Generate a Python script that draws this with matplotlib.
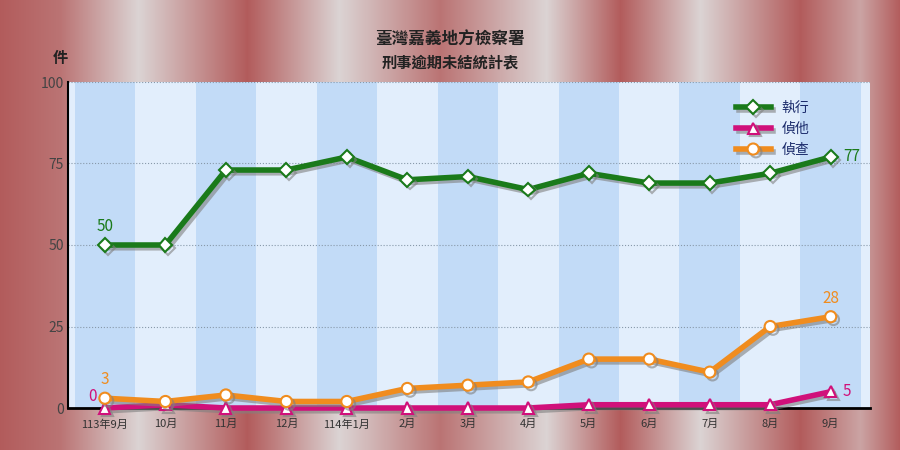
import matplotlib
matplotlib.use("Agg")
import matplotlib.pyplot as plt
import matplotlib.patheffects as pe
import numpy as np

months = ["113年9月","10月","11月","12月","114年1月","2月","3月","4月","5月","6月","7月","8月","9月"]
zhixing = [50,50,73,73,77,70,71,67,72,69,69,72,77]
zhenta = [0,1,0,0,0,0,0,0,1,1,1,1,5]
zhencha = [3,2,4,2,2,6,7,8,15,15,11,25,28]

plt.rcParams['font.family'] = ['Noto Sans CJK TC', 'DejaVu Sans']
fig = plt.figure(figsize=(9, 4.5), dpi=100)

# background stripes
bg = fig.add_axes([0, 0, 1, 1], zorder=-10)
cx = [0, 60, 138, 247, 339, 440, 546, 620, 700, 800, 860, 900]
cv = [0.0, 0.2, 1.0, 0.0, 1.0, 0.2, 1.0, 0.0, 1.0, 0.0, 0.6, 0.0]
xs = np.arange(900)
v = np.interp(xs, cx, cv)
red = np.array([0.70, 0.36, 0.36]); gray = np.array([0.86, 0.83, 0.83])
img = red[None, :] * (1 - v[:, None]) + gray[None, :] * v[:, None]
bg.imshow(img[None, :, :], aspect='auto', extent=[0, 1, 0, 1])
bg.axis('off')

ax = fig.add_axes([68/900, 1-408/450, (870-68)/900, (408-82)/450])
ax.set_xlim(-0.61, 12.65)
ax.set_ylim(0, 100)
ax.set_facecolor('#e2eefc')
for i in range(len(months)):
    if i % 2 == 0:
        ax.axvspan(i-0.5, i+0.5, color='#c2dbf7', zorder=0, lw=0)
for y in [25, 50, 75, 100]:
    ax.axhline(y, color='#8899aa', ls=':', lw=0.8, zorder=1)

x = np.arange(len(months))
sh = [pe.SimpleLineShadow(offset=(2, -2), shadow_color='gray', alpha=0.6), pe.Normal()]
ax.plot(x, zhixing, color='#1a7a1a', lw=4, marker='D', ms=7, mfc='white', mec='#1a7a1a', mew=1.5, label='執行', path_effects=sh, zorder=5, clip_on=False)
ax.plot(x, zhenta, color='#d0107a', lw=4, marker='^', ms=8, mfc='white', mec='#d0107a', mew=1.5, label='偵他', path_effects=sh, zorder=5, clip_on=False)
ax.plot(x, zhencha, color='#f08c1e', lw=4, marker='o', ms=8, mfc='white', mec='#f08c1e', mew=1.5, label='偵查', path_effects=sh, zorder=5, clip_on=False)

ax.text(0, zhixing[0]+3, str(zhixing[0]), color='#1a7a1a', ha='center', va='bottom', fontsize=11)
ax.text(12.2, zhixing[-1], str(zhixing[-1]), color='#1a7a1a', ha='left', va='center', fontsize=11)
ax.text(0, zhencha[0]+3, str(zhencha[0]), color='#f08c1e', ha='center', va='bottom', fontsize=11)
ax.text(12, zhencha[-1]+3, str(zhencha[-1]), color='#f08c1e', ha='center', va='bottom', fontsize=11)
ax.text(-0.2, zhenta[0]+1, str(zhenta[0]), color='#d0107a', ha='center', va='bottom', fontsize=11)
ax.text(12.2, zhenta[-1], str(zhenta[-1]), color='#d0107a', ha='left', va='center', fontsize=11)

ax.set_xticks(x)
ax.set_xticklabels(months, fontsize=8, color='#333333', family=['Noto Sans CJK TC'])
ax.set_yticks([0, 25, 50, 75, 100])
ax.set_yticklabels(['0', '25', '50', '75', '100'], fontsize=10, color='#444444')
ax.tick_params(axis='y', length=0, pad=3)
ax.tick_params(axis='x', length=0, pad=8)
for s in ['top', 'right']:
    ax.spines[s].set_visible(False)
ax.spines['left'].set_linewidth(1.5)
ax.spines['bottom'].set_linewidth(2)

leg = ax.legend(loc='upper right', bbox_to_anchor=(0.94, 0.98), frameon=False, fontsize=10, labelcolor='#1a2a6a', handlelength=2.5)

fig.text(0.5, 1-40/450, '臺灣嘉義地方檢察署', ha='center', va='center', fontsize=12, weight='bold', color='#222222')
fig.text(0.5, 1-62/450, '刑事逾期未結統計表', ha='center', va='center', fontsize=11, weight='bold', color='#222222')
fig.text(60/900, 1-58/450, '件', ha='center', va='center', fontsize=11, weight='bold', color='#222222')

fig.savefig('out.png', dpi=100)
